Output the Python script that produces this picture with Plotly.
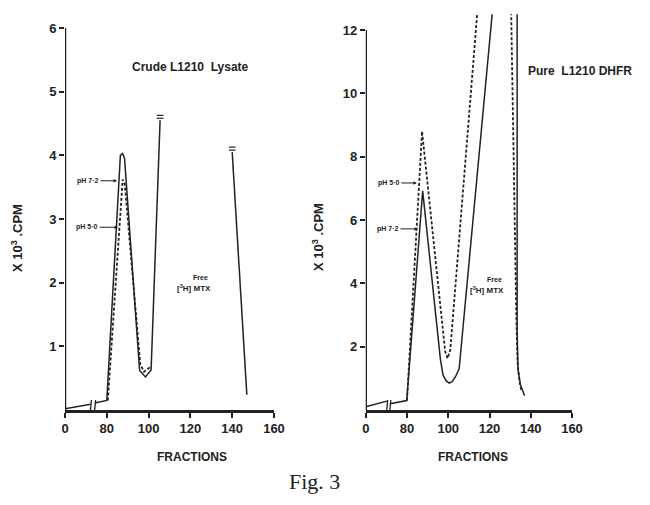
import plotly.graph_objects as go

# fractions below 80 are squeezed onto the 60..80 stretch of the axis (60 is labelled 0)
def squeeze(f):
    if f is None:
        return None
    return 60 + f / 4.0 if f < 80 else f


# ---- left panel: crude L1210 lysate ----
crude_solid_fr = [0, 49, None, 57, 80, 86.5, 87.5, 88.5, 95.7, 98.5, 101.2, 105.5, None, 140, 147]
crude_solid_cpm = [0.02, 0.09, None, 0.11, 0.15, 4.0, 4.03, 3.95, 0.62, 0.52, 0.63, 4.55, None, 4.05, 0.24]

crude_dot_fr = [80.5, 87.6, 88.6, 96.0, 97.8, 101.0]
crude_dot_cpm = [0.15, 3.62, 3.55, 0.72, 0.6, 0.68]

# ---- right panel: pure L1210 DHFR ----
pure_solid_fr = [0, 41, None, 47, 79.5, 87.6, 96.2, 97.5, 99.0, 100.5, 102.0, 103.5, 105.3,
                 127, 133.4, 133.4, 133.8, 135.0, 137.0]
pure_solid_cpm = [0.1, 0.28, None, 0.2, 0.3, 6.92, 1.6, 1.1, 0.92, 0.85, 0.9, 1.05, 1.31,
                  16.5, 12.6, 2.5, 1.3, 0.8, 0.45]

pure_dot_fr = [80.0, 87.3, 98.5, 99.7, 101.0, 122, 130.5, 132.0, 133.0, 133.6, 134.5, 135.5]
pure_dot_cpm = [0.3, 8.8, 1.85, 1.63, 1.9, 19.0, 12.6, 6.0, 3.0, 1.5, 0.9, 0.6]

x_ticks = [60, 80, 100, 120, 140, 160]
x_ticktext = ["0", "80", "100", "120", "140", "160"]
crude_yticks = [1, 2, 3, 4, 5, 6]
pure_yticks = [2, 4, 6, 8, 10, 12]

ink = "#222222"
W, H = 650, 505
OFF = 8  # the page puts the figure 8px in from the top-left corner
tick_font = dict(family="Liberation Sans, Arial, sans-serif", size=13, color=ink, weight="bold")


def px_x(px):
    return (px - OFF) / W


def px_y(py):
    return 1 - (py - OFF) / H


fig = go.Figure()

line_solid = dict(color=ink, width=1.5)
line_dot = dict(color=ink, width=1.8, dash="3px,2px")

fig.add_trace(go.Scatter(x=[squeeze(f) for f in crude_solid_fr], y=crude_solid_cpm,
                         mode="lines", line=line_solid, xaxis="x", yaxis="y",
                         connectgaps=False, showlegend=False, hoverinfo="skip"))
fig.add_trace(go.Scatter(x=crude_dot_fr, y=crude_dot_cpm, mode="lines", line=line_dot,
                         xaxis="x", yaxis="y", showlegend=False, hoverinfo="skip"))
fig.add_trace(go.Scatter(x=[squeeze(f) for f in pure_solid_fr], y=pure_solid_cpm,
                         mode="lines", line=line_solid, xaxis="x2", yaxis="y2",
                         connectgaps=False, showlegend=False, hoverinfo="skip"))
fig.add_trace(go.Scatter(x=pure_dot_fr, y=pure_dot_cpm, mode="lines", line=line_dot,
                         xaxis="x2", yaxis="y2", showlegend=False, hoverinfo="skip"))

xaxis_common = dict(range=[60, 160], tickvals=x_ticks, ticktext=x_ticktext,
                    showline=True, linecolor=ink, linewidth=2.5, ticks="outside",
                    ticklen=5, tickwidth=2, tickcolor=ink, showgrid=False,
                    zeroline=False, tickfont=tick_font, automargin=False)
yaxis_common = dict(showline=False, ticks="outside", ticklen=5, tickwidth=2,
                    tickcolor=ink, showgrid=False, zeroline=False, tickfont=tick_font,
                    automargin=False)

fig.update_layout(
    width=W, height=H,
    margin=dict(l=0, r=0, t=0, b=0, pad=0),
    paper_bgcolor="white", plot_bgcolor="white",
    xaxis=dict(domain=[px_x(65), px_x(274)], anchor="y", **xaxis_common),
    yaxis=dict(domain=[px_y(410), px_y(28)], anchor="x", range=[0, 6],
               tickvals=crude_yticks, **yaxis_common),
    xaxis2=dict(domain=[px_x(365.75), px_x(572)], anchor="y2", **xaxis_common),
    yaxis2=dict(domain=[px_y(410), px_y(14.2)], anchor="x2", range=[0, 12.5],
                tickvals=pure_yticks, **yaxis_common),
)

shapes = []
# y axis lines (stop at the top tick)
shapes.append(dict(type="line", xref="x", yref="y", x0=60, x1=60, y0=0, y1=crude_yticks[-1],
                   line=dict(color=ink, width=2.5), layer="above"))
shapes.append(dict(type="line", xref="x2", yref="y2", x0=60, x1=60, y0=0, y1=pure_yticks[-1],
                   line=dict(color=ink, width=2.5), layer="above"))

# axis breaks on the squeezed part of the fraction axis
for xr, yr, fa, fb in [("x", "y", 49, 57), ("x2", "y2", 41, 47)]:
    xa, xb = squeeze(fa), squeeze(fb)
    shapes.append(dict(type="rect", xref=xr, yref=yr, x0=xa, x1=xb, ysizemode="pixel",
                       yanchor=0, y0=-3, y1=3, fillcolor="white", line=dict(width=0),
                       layer="above"))
    for xm in (xa, xb):
        shapes.append(dict(type="line", xref=xr, yref=yr, x0=xm - 0.4, x1=xm + 0.4,
                           ysizemode="pixel", yanchor=0, y0=-7, y1=10,
                           line=dict(color=ink, width=1.3), layer="above"))

# "=" marks where the free MTX peak runs off scale in the left panel
top_up = (crude_solid_fr[11], crude_solid_cpm[11])
top_down = (crude_solid_fr[13], crude_solid_cpm[13])
for fx, fy in (top_up, top_down):
    for dy in (2, 5):
        shapes.append(dict(type="line", xref="x", yref="y", x0=fx - 1.6, x1=fx + 1.6,
                           ysizemode="pixel", yanchor=fy, y0=dy, y1=dy,
                           line=dict(color=ink, width=1.2), layer="above"))
fig.update_layout(shapes=shapes)

small = dict(family="Liberation Sans, Arial, sans-serif", size=7, color=ink, weight="bold")
label_font = dict(family="Liberation Sans, Arial, sans-serif", size=12, color=ink, weight="bold")
ann = []


def arrow(xr, yr, x, y, text, ax):
    ann.append(dict(xref=xr, yref=yr, x=x, y=y, text=text, showarrow=True, ax=ax, ay=0,
                    arrowhead=2, arrowsize=0.7, arrowwidth=1, arrowcolor=ink,
                    standoff=0, font=small))


arrow("x", "y", 84.9, 3.6, "pH 7·2", -29)
arrow("x", "y", 85.4, 2.87, "pH 5·0", -31)
arrow("x2", "y2", 84.8, 7.17, "pH 5·0", -28)
arrow("x2", "y2", 85.3, 5.72, "pH 7·2", -30)


def paper_text(px, py, text, font, angle=0):
    ann.append(dict(xref="paper", yref="paper", x=px_x(px), y=px_y(py), text=text,
                    showarrow=False, font=font, textangle=angle,
                    xanchor="center", yanchor="middle"))


paper_text(191, 67, "Crude L1210  Lysate", label_font)
paper_text(580, 71, "Pure  L1210 DHFR", label_font)
paper_text(200, 277, "Free", small)
paper_text(194, 288, "[<sup>3</sup>H] MTX", dict(small, size=8))
paper_text(494, 279, "Free", small)
paper_text(487, 290, "[<sup>3</sup>H] MTX", dict(small, size=8))
paper_text(17, 238, "X 10<sup>3</sup> .CPM", dict(label_font, size=13), angle=-90)
paper_text(318, 237, "X 10<sup>3</sup> .CPM", dict(label_font, size=13), angle=-90)
paper_text(192, 457, "FRACTIONS", dict(label_font, size=12))
paper_text(473, 457, "FRACTIONS", dict(label_font, size=12))
paper_text(314, 481, "Fig. 3", dict(family="Liberation Serif, Times New Roman, serif",
                                    size=22, color=ink))
fig.update_layout(annotations=ann)

fig.write_html("out.html")
